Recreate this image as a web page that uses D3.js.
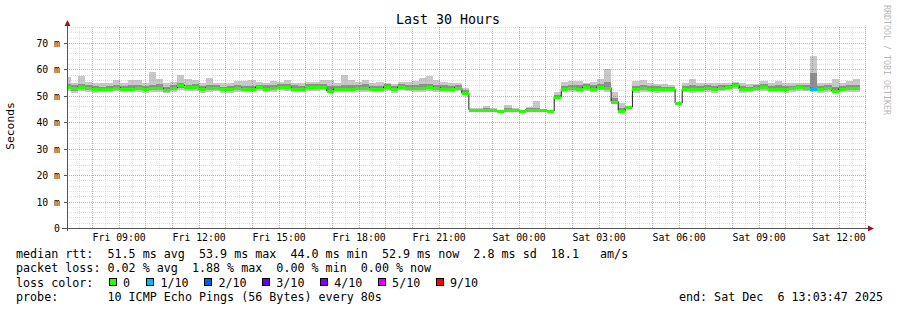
<!DOCTYPE html>
<html>
<head>
<meta charset="utf-8">
<script src="https://cdn.jsdelivr.net/npm/d3@7"></script>
<style>
  body { margin: 0; background: #fff; }
  svg { display: block; font-family: "DejaVu Sans Mono", monospace; }
</style>
</head>
<body>
<div id="chart"></div>
<script>
// time frame of the graph
const endTime = new Date(2025, 11, 6, 13, 3, 47);
const spanHours = 30;
const lastBlockEnd = new Date(2025, 11, 6, 12, 48, 0);
const blockSeconds = 960;

// per 16 min block: median rtt and smoke (ms)
const median = [53.4,52.9,53.4,53.1,52.5,52.5,52.7,53.1,52.6,52.7,52.9,52.5,52.9,53.0,52.3,52.9,54.1,53.3,53.2,52.5,
  53.1,53.1,52.5,52.5,53.0,52.7,52.6,53.2,52.7,52.9,53.4,53.4,52.7,52.7,53.4,53.4,53.4,51.8,52.7,52.7,
  52.7,52.9,53.1,52.7,52.7,53.4,52.5,53.4,53.1,53.1,53.1,53.4,53.1,52.7,52.7,53.1,51.0,44.8,44.8,44.7,
  44.6,44.2,44.8,44.8,44.2,44.8,44.8,44.5,44.2,49.5,52.7,52.9,52.7,53.3,52.7,53.5,53.1,47.8,44.4,45.7,
  52.6,52.9,52.6,52.5,52.5,52.5,47.2,52.6,52.6,52.6,52.8,52.5,53.1,53.5,54.1,52.5,52.6,53.1,53.5,52.6,
  52.7,52.6,52.8,53.2,53.1,52.6,52.5,53.0,51.9,52.7,52.8,52.8];
const rttMin = [51.9,51.0,51.8,51.5,51.2,51.3,51.4,51.7,51.3,51.5,51.6,51.2,51.4,51.6,51.0,51.5,52.3,51.9,51.8,51.1,
  51.6,51.7,51.2,51.0,51.6,51.4,51.3,51.8,51.4,51.5,52.0,51.9,51.3,51.4,51.9,51.8,52.0,51.0,51.4,51.3,
  51.4,51.5,51.6,51.4,51.3,51.9,51.1,52.0,51.7,51.6,51.6,51.8,51.6,51.3,51.4,51.7,50.2,44.3,44.4,44.2,
  44.2,43.9,44.3,44.4,43.9,44.4,44.3,44.1,43.9,48.8,51.4,51.5,51.3,51.8,51.4,52.0,51.6,47.1,44.0,45.3,
  51.2,51.5,51.3,51.2,51.3,51.4,46.9,51.4,51.2,51.3,51.5,51.2,51.7,52.0,52.6,51.1,51.4,51.8,51.9,51.3,
  51.3,51.2,51.4,51.8,51.7,51.3,51.2,51.6,51.0,51.4,51.4,51.3];
const rttLo = [52.6,51.8,52.5,52.2,51.8,51.9,52.0,52.3,51.9,52.0,52.2,51.8,52.1,52.2,51.5,52.1,53.0,52.5,52.4,51.7,
  52.3,52.3,51.8,51.7,52.2,52.0,51.9,52.4,52.0,52.1,52.6,52.6,51.8,52.0,52.6,52.5,52.6,51.4,52.0,51.9,
  52.0,52.1,52.3,52.0,51.9,52.6,51.8,52.6,52.3,52.3,52.2,52.5,52.3,51.9,52.0,52.3,50.6,44.5,44.6,44.5,
  44.4,44.0,44.5,44.6,44.0,44.6,44.5,44.3,44.0,49.1,52.0,52.1,51.9,52.5,52.0,52.7,52.3,47.4,44.2,45.5,
  51.8,52.1,51.9,51.8,51.9,51.9,47.0,52.0,51.9,51.9,52.1,51.8,52.3,52.6,53.2,51.7,52.0,52.4,52.6,51.9,
  51.9,51.8,52.0,52.4,52.3,51.9,51.8,52.2,51.4,52.0,52.0,52.0];
const rttHi = [54.4,53.9,54.6,54.2,53.6,53.5,53.8,54.1,53.6,54.0,53.9,53.7,54.2,54.3,53.4,53.9,55.0,54.2,54.3,53.6,
  54.0,54.1,53.5,53.7,54.0,53.8,53.7,54.2,53.9,54.0,54.3,54.5,53.9,53.8,54.4,54.6,54.5,53.6,53.8,54.1,
  53.9,54.0,54.3,53.7,53.8,54.4,53.6,54.3,54.1,54.2,54.4,54.6,54.2,53.9,53.8,54.0,52.0,45.1,45.1,45.2,
  44.9,44.5,45.3,45.1,44.4,45.2,45.4,44.8,44.4,50.4,53.8,54.0,54.0,54.3,53.9,54.6,55.2,49.2,45.4,45.9,
  53.8,54.1,53.8,53.6,53.4,53.3,47.4,53.7,53.9,53.6,53.9,53.6,54.0,54.2,54.7,53.6,53.5,53.9,54.6,53.7,
  54.0,53.6,53.8,54.0,54.0,58.7,53.7,53.9,53.5,53.8,54.0,54.0];
const rttMax = [57.2,54.9,57.6,55.3,54.8,55.0,54.9,55.8,54.9,55.8,55.8,54.9,59.1,56.5,55.0,55.3,57.9,56.5,55.8,54.9,
  56.6,54.9,54.9,54.9,55.6,55.6,55.8,55.3,55.0,55.6,55.3,55.8,54.9,54.9,55.3,55.3,56.1,55.8,54.9,57.9,
  55.8,55.3,56.1,55.0,55.3,55.0,54.6,55.3,55.3,55.6,56.8,57.3,56.1,55.3,55.0,55.0,52.9,45.3,45.5,46.0,
  45.2,44.8,46.6,45.3,44.7,45.6,48.2,45.0,44.6,51.4,55.1,55.6,55.6,54.9,55.3,56.5,60.2,51.6,47.2,46.2,
  55.6,55.8,55.0,54.6,54.4,54.2,47.6,54.7,56.3,54.7,55.0,54.7,55.0,54.9,55.2,54.7,54.3,54.5,55.7,54.7,
  55.4,54.7,54.8,54.8,54.9,65.1,55.0,54.7,56.3,54.8,55.4,56.3];
// lost pings (of 10) per block
const lostPings = [0,0,0,0,0,0,0,0,0,0,0,0,0,0,0,0,0,0,0,0,0,0,0,0,0,0,0,0,0,0,0,0,0,0,0,0,0,0,0,0,
  0,0,0,0,0,0,0,0,0,0,0,0,0,0,0,0,0,0,0,0,0,0,0,0,0,0,0,0,0,0,0,0,0,0,0,0,0,0,0,0,
  0,0,0,0,0,0,0,0,0,0,0,0,0,0,0,0,0,0,0,0,0,0,0,0,0,1,0,0,0,0,0,0];

const lossLabels = ['0', '1/10', '2/10', '3/10', '4/10', '5/10', '9/10'];
const lossLevels = [0, 1, 2, 3, 4, 5, 9];
const lossColors = ['#26ff00', '#00b8ff', '#0059ff', '#5e00ff', '#7e00ff', '#dd00ff', '#ff0000'];
const yTicks = [0, 10, 20, 30, 40, 50, 60, 70];

const statLines = [
  'median rtt:  51.5 ms avg  53.9 ms max  44.0 ms min  52.9 ms now  2.8 ms sd  18.1   am/s',
  'packet loss: 0.02 % avg  1.88 % max  0.00 % min  0.00 % now',
  'loss color:',
  'probe:       10 ICMP Echo Pings (56 Bytes) every 80s',
];
const endLabel = 'end: Sat Dec  6 13:03:47 2025';

const W = 897, H = 310;
const plot = { left: 67, right: 867, top: 27, bottom: 228 };
const mono = '"DejaVu Sans Mono", monospace';

const svg = d3.select('#chart').append('svg').attr('width', W).attr('height', H);
svg.append('rect').attr('width', W).attr('height', H).attr('fill', '#fff');

const x = d3.scaleTime()
  .domain([d3.timeHour.offset(endTime, -spanHours), endTime])
  .range([plot.left, plot.right]);
const y = d3.scaleLinear().domain([0, 76]).range([plot.bottom, plot.top]);

svg.append('clipPath').attr('id', 'clip')
  .append('rect').attr('x', plot.left).attr('y', plot.top)
  .attr('width', plot.right - plot.left).attr('height', plot.bottom - plot.top);

const n = median.length;
const blocks = median.map((m, i) => {
  const t1 = new Date(lastBlockEnd.getTime() - (n - 1 - i) * blockSeconds * 1000);
  const t0 = new Date(t1.getTime() - blockSeconds * 1000);
  return { t0, t1, med: m, min: rttMin[i], lo: rttLo[i], hi: rttHi[i], max: rttMax[i], loss: lostPings[i] };
});

function lossColor(k) {
  let c = lossColors[0];
  lossLevels.forEach((lv, j) => { if (k >= lv) c = lossColors[j]; });
  return c;
}

const g = svg.append('g').attr('clip-path', 'url(#clip)');

// smoke: outer (min..max) light, inner (lo..hi) darker
g.append('g').selectAll('rect').data(blocks).join('rect')
  .attr('x', d => x(d.t0)).attr('width', d => x(d.t1) - x(d.t0))
  .attr('y', d => y(d.max)).attr('height', d => y(d.min) - y(d.max))
  .attr('fill', '#c8c8c8').attr('shape-rendering', 'crispEdges');
g.append('g').selectAll('rect').data(blocks).join('rect')
  .attr('x', d => x(d.t0)).attr('width', d => x(d.t1) - x(d.t0))
  .attr('y', d => y(d.hi)).attr('height', d => y(d.lo) - y(d.hi))
  .attr('fill', '#8e8e8e').attr('shape-rendering', 'crispEdges');

// median step line
const stepPts = blocks.map(d => [x(d.t0), y(d.med)]);
stepPts.push([x(blocks[n - 1].t1), y(blocks[n - 1].med)]);
g.append('path')
  .attr('d', d3.line().curve(d3.curveStepAfter)(stepPts))
  .attr('fill', 'none').attr('stroke', '#202020').attr('stroke-width', 1);

// loss coloured median band
g.append('g').selectAll('rect').data(blocks).join('rect')
  .attr('x', d => x(d.t0)).attr('width', d => x(d.t1) - x(d.t0))
  .attr('y', d => Math.round(y(d.med)) - 1.5).attr('height', 3)
  .attr('fill', d => lossColor(d.loss)).attr('shape-rendering', 'crispEdges');

// grid (drawn over the graph, like rrdtool)
const grid = svg.append('g').attr('fill', 'none').attr('stroke-dasharray', '1,1').attr('shape-rendering', 'crispEdges');
const minorCol = 'rgba(160,160,160,0.32)';
const majorCol = 'rgba(235,60,60,0.5)';

const halfHours = x.ticks(d3.timeMinute.every(30)).filter(t => t.getMinutes() !== 0);
const hours = x.ticks(d3.timeHour.every(1));
grid.selectAll('.vmin').data(halfHours).join('line').attr('class', 'vmin')
  .attr('x1', d => Math.round(x(d)) + 0.5).attr('x2', d => Math.round(x(d)) + 0.5)
  .attr('y1', plot.top).attr('y2', plot.bottom).attr('stroke', minorCol);
grid.selectAll('.vmaj').data(hours).join('line').attr('class', 'vmaj')
  .attr('x1', d => Math.round(x(d)) + 0.5).attr('x2', d => Math.round(x(d)) + 0.5)
  .attr('y1', plot.top).attr('y2', plot.bottom).attr('stroke', majorCol);

const minorY = d3.range(2, 77, 2).filter(v => v % 10 !== 0);
grid.selectAll('.hmin').data(minorY).join('line').attr('class', 'hmin')
  .attr('x1', plot.left).attr('x2', plot.right)
  .attr('y1', d => Math.round(y(d)) + 0.5).attr('y2', d => Math.round(y(d)) + 0.5).attr('stroke', minorCol);
grid.selectAll('.hmaj').data(yTicks.slice(1)).join('line').attr('class', 'hmaj')
  .attr('x1', plot.left).attr('x2', plot.right)
  .attr('y1', d => Math.round(y(d)) + 0.5).attr('y2', d => Math.round(y(d)) + 0.5).attr('stroke', majorCol);

// axes
const xAxis = svg.append('g').attr('transform', `translate(0,${plot.bottom})`)
  .call(d3.axisBottom(x).ticks(d3.timeHour.every(3)).tickFormat(d3.timeFormat('%a %H:%M')).tickSize(0));
xAxis.select('.domain').remove();
xAxis.selectAll('text').attr('y', 13).attr('dy', null)
  .style('font-family', mono).style('font-size', '9.8px').style('fill', '#000');

const yAxis = svg.append('g').attr('transform', `translate(${plot.left},0)`)
  .call(d3.axisLeft(y).tickValues(yTicks).tickFormat(d => d === 0 ? '0' : d + ' m').tickSize(3).tickPadding(4));
yAxis.select('.domain').remove();
yAxis.selectAll('line').attr('stroke', '#555').attr('shape-rendering', 'crispEdges');
yAxis.selectAll('text').attr('dy', '0.36em')
  .style('font-family', mono).style('font-size', '9.8px').style('fill', '#000');

const axisCol = '#555';
svg.append('line').attr('x1', 62).attr('x2', 869).attr('y1', plot.bottom + 0.5).attr('y2', plot.bottom + 0.5)
  .attr('stroke', axisCol).attr('shape-rendering', 'crispEdges');
svg.append('line').attr('x1', plot.left + 0.5).attr('x2', plot.left + 0.5).attr('y1', plot.bottom + 3).attr('y2', 24)
  .attr('stroke', axisCol).attr('shape-rendering', 'crispEdges');
svg.append('path').attr('d', `M${plot.left + 0.5},20 L${plot.left + 3.5},26 L${plot.left - 2.5},26 Z`).attr('fill', '#8b1e1e');
svg.append('path').attr('d', `M874,${plot.bottom + 0.5} L868,${plot.bottom - 2.5} L868,${plot.bottom + 3.5} Z`).attr('fill', '#8b1e1e');

// titles
svg.append('text').attr('x', 448).attr('y', 24).attr('text-anchor', 'middle')
  .style('font-size', '13.3px').text('Last 30 Hours');
svg.append('text').attr('transform', 'translate(14,126) rotate(-90)').attr('text-anchor', 'middle')
  .style('font-size', '11.3px').text('Seconds');
svg.append('text').attr('transform', 'translate(884,5) rotate(90)')
  .style('font-size', '8.3px').attr('fill', '#b8b8b8').text('RRDTOOL / TOBI OETIKER');

// legend
const legend = svg.append('g').style('font-size', '11.7px').attr('fill', '#000');
legend.selectAll('text.stat').data(statLines).join('text').attr('class', 'stat')
  .attr('x', 16).attr('y', (d, i) => 258 + i * 14.3)
  .attr('xml:space', 'preserve').style('white-space', 'pre').text(d => d);
legend.append('text').attr('x', 883).attr('y', 258 + 3 * 14.3).attr('text-anchor', 'end')
  .attr('xml:space', 'preserve').style('white-space', 'pre').text(endLabel);

const lossItems = lossLabels.map((l, i) => ({ label: l, color: lossColors[i], x: i === 0 ? 108.5 : 146 + (i - 1) * 57.9 }));
const li = legend.selectAll('g.loss').data(lossItems).join('g').attr('class', 'loss');
li.append('rect').attr('x', d => d.x + 0.5).attr('y', 278.5).attr('width', 7).attr('height', 7)
  .attr('fill', d => d.color).attr('stroke', '#000').attr('shape-rendering', 'crispEdges');
li.append('text').attr('x', d => d.x + 14.5).attr('y', 258 + 2 * 14.3).text(d => d.label);
</script>
</body>
</html>
